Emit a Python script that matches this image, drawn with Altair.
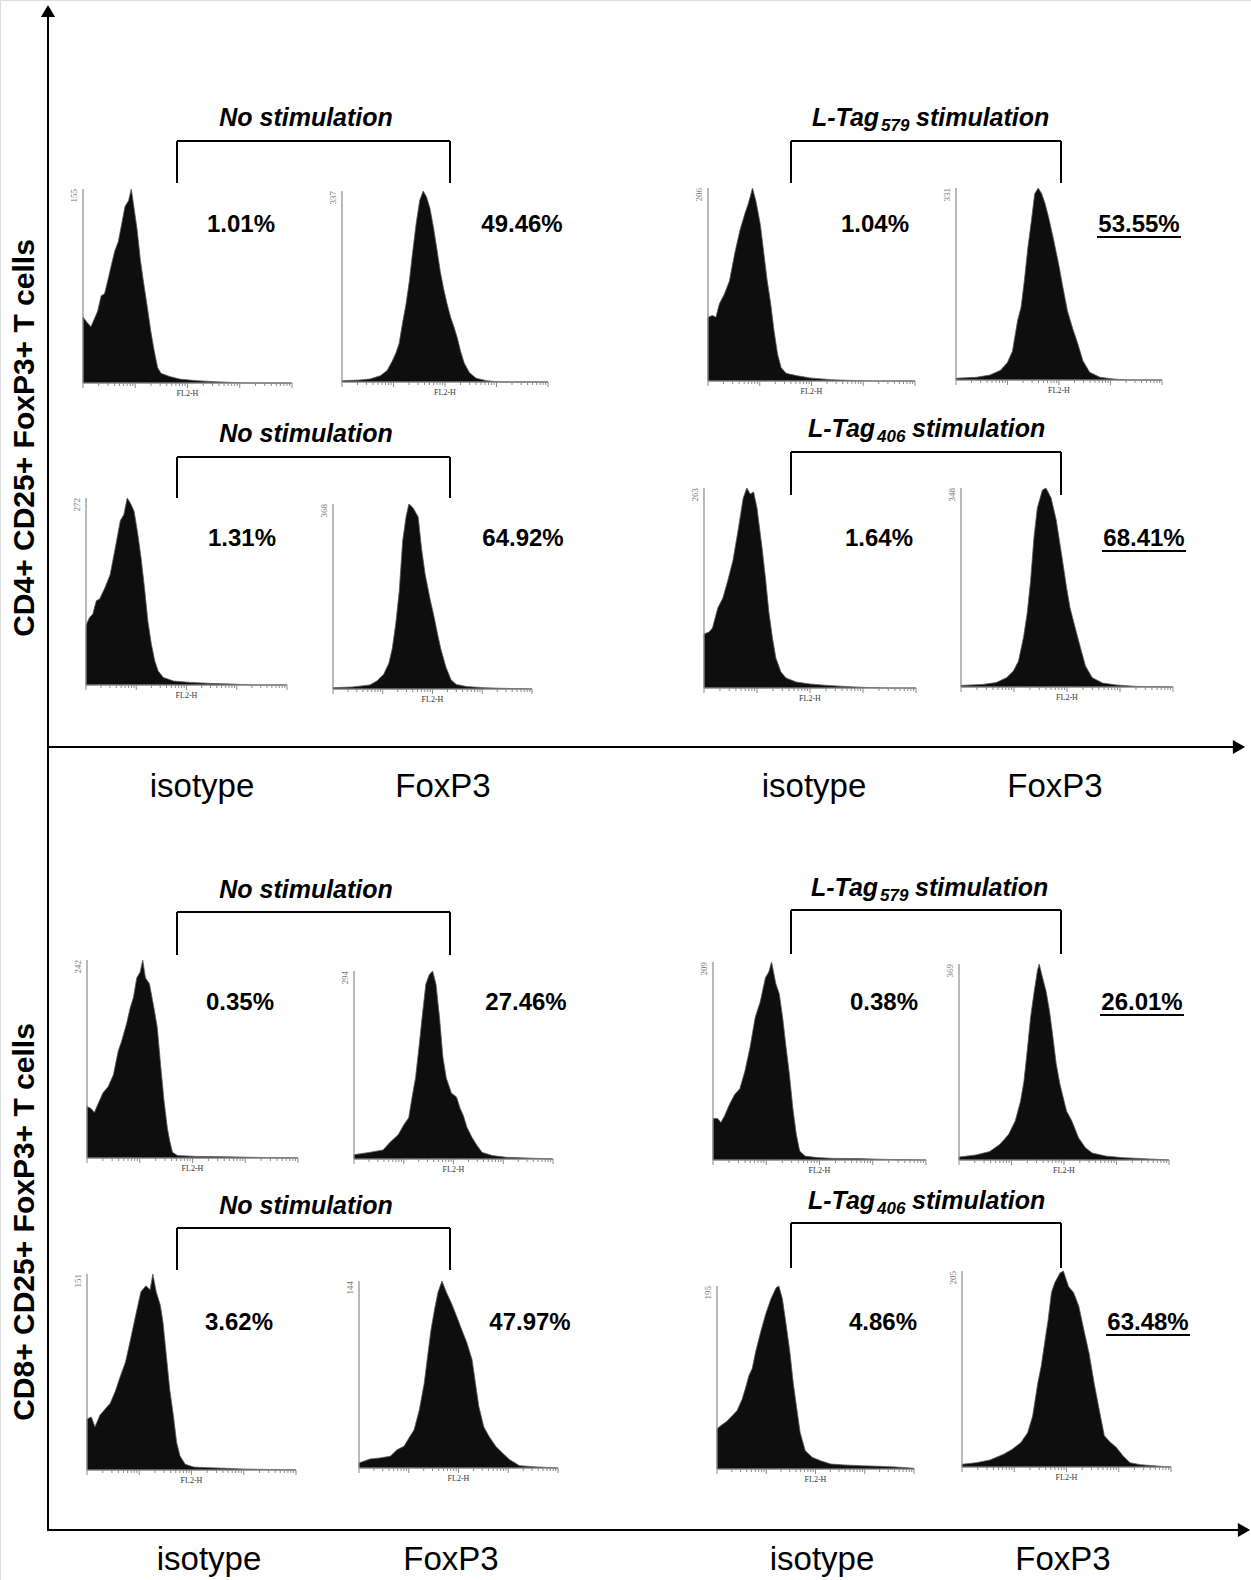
import altair as alt
import pandas as pd
import numpy as np

W, H = 1251, 1580

# ---------------- data: histogram profiles ----------------
# channel on a 4-decade log FL2-H axis (0-1000), count as % of modal count
P1_CH = [0,21,38,54,70,87,103,119,136,152,169,185,201,218,231,242,259,275,291,308,324,340,357,373,414,463,545,627,709,790,1000]
P1_PCT = [34,31,29,33,37,45,46,53,61,68,73,82,91,94,100,92,79,63,51,39,27,17,8,5,3.4,2,1.2,0.7,0.3,0,0]
P2_CH = [0,86,136,186,219,244,261,277,294,311,327,344,360,377,394,410,427,444,460,477,493,510,527,543,560,576,593,618,651,701,767,1000]
P2_PCT = [0.7,1,1.6,3.3,6,11,15,20,31,41,53,69,83,95,100,97,91,81,70,58,49,41,34,29,23,16,10,5,2,0.7,0,0]
P3_CH = [0,22,38,55,79,104,129,154,179,195,215,232,253,270,286,303,319,336,353,377,427,493,593,692,791,1000]
P3_PCT = [33,34,33,40,45,52,66,78,87,92,100,93,81,66,52,40,26,14,7,4,2.8,1.6,0.7,0.3,0,0]
P4_CH = [0,98,165,215,249,274,299,316,332,349,366,382,399,416,432,449,474,499,516,541,566,591,616,649,699,766,833,1000]
P4_PCT = [0.9,1.4,2.6,5,9,15,31,38,52,69,83,97,100,97,92,85,73,60,50,36,27,19,10,4,1.4,0.5,0,0]
P5_CH = [0,17,34,51,68,94,120,145,171,188,205,222,239,256,274,291,308,325,342,359,385,436,521,607,726,829,1000]
P5_PCT = [32,36,38,45,46,52,59,73,88,91,100,97,93,82,68,52,34,22,13,7.5,4,2.1,1.4,0.9,0.5,0,0]
P6_CH = [0,99,185,220,255,281,298,315,333,350,367,381,402,428,445,463,489,506,523,541,567,593,619,671,757,844,1000]
P6_PCT = [0.7,1.1,2.2,4.3,8,14,22,35,53,80,93,100,98,93,76,62,48,40,31,22,12,5,2.5,1.3,0.7,0.4,0]
P7_CH = [0,24,40,65,89,113,137,161,185,202,218,234,250,274,290,306,323,339,363,387,435,500,581,661,758,855,1000]
P7_PCT = [27,28,30,40,45,54,64,79,95,100,97,98,90,70,55,38,25,15,8,5,3,2,1.3,0.8,0.3,0,0]
P8_CH = [0,102,166,215,247,271,295,312,328,344,360,384,401,425,449,474,498,514,538,563,587,619,668,733,830,1000]
P8_PCT = [0.8,1.3,2.2,4.7,8,13,25,37,53,75,90,99,100,95,84,67,50,40,30,20,10.6,4.7,2,1,0.3,0]
P9_CH = [0,19,35,51,76,100,125,148,164,188,205,220,236,252,264,277,296,317,333,349,365,381,392,405,429,518,598,711,807,1000]
P9_PCT = [26,25,23,27,33,36,42,54,59,68,76,81,91,94,100,91,88,76,66,47,29,15,8.7,2.9,1.2,0.8,0.7,0.5,0.3,0]
P10_CH = [0,77,146,180,223,249,275,292,309,326,344,361,378,395,412,430,447,464,490,515,533,550,567,593,619,644,696,765,868,1000]
P10_PCT = [2.3,3.5,4.8,8.8,13,18,22,33,43,59,77,93,98,100,93,75,54,43,35,33,27,23,17,11.5,7.1,3.5,1.8,0.9,0.5,0]
P11_CH = [0,21,37,53,77,101,126,150,174,198,222,246,262,275,295,311,327,343,359,375,391,407,432,488,568,681,810,1000]
P11_PCT = [21,21,19,22,28,33,36,45,57,72,80,92,95,100,89,84,72,57,43,26,13,4.5,2,1.2,0.8,0.7,0.3,0]
P12_CH = [0,81,146,195,236,268,293,309,325,341,358,374,382,398,415,431,447,463,480,496,512,537,569,602,634,699,780,878,1000]
P12_PCT = [1.5,2.6,4.3,8,13,20,30,40,56,73,86,97,100,93,86,76,63,49,39,32,25,20,11.4,6.3,3.6,2,1.2,0.7,0]
P13_CH = [0,21,38,62,86,111,135,160,184,209,233,258,282,302,315,331,351,364,380,396,413,429,445,470,511,576,657,739,853,1000]
P13_PCT = [26,27,22,28,31,34,40,48,55,67,79,91,94,92,100,91,84,75,58,41,28,14,7.2,2.9,1.5,1.2,0.9,0.5,0.3,0]
P14_CH = [0,55,106,157,191,226,251,277,303,328,345,362,380,397,417,439,465,491,516,542,568,585,602,627,653,687,721,756,807,875,1000]
P14_PCT = [2.7,4.8,5.4,6.3,9.8,11.6,16,20.5,31,45.5,60,74,85,94,100,94,88,81,74,67,58,45.5,33,22,17,11.6,8,4.5,1.25,0.7,0]
P15_CH = [0,23,49,76,102,127,144,162,179,196,222,248,274,300,314,332,352,370,387,405,422,448,483,526,578,648,734,821,908,1000]
P15_PCT = [22,24,26,29,32,38,44,51,55,64,75,85,93,99,100,93,78,64,47,33,20,10,6.4,4.5,2.7,2.2,1.8,1.5,1.1,0.4]
P16_CH = [0,69,134,199,240,281,314,338,363,379,395,412,428,444,469,485,510,534,559,583,608,632,657,681,706,739,771,804,853,935,1000]
P16_PCT = [1.4,2.2,3.6,6.5,9,12.4,17.5,26,43,51.5,63,75,89,94,99,100,92,89,82,70,58,43,29,16,13,9.9,5.6,2.2,1.2,0.5,0]

HIST_CH = [P1_CH, P2_CH, P3_CH, P4_CH, P5_CH, P6_CH, P7_CH, P8_CH,
           P9_CH, P10_CH, P11_CH, P12_CH, P13_CH, P14_CH, P15_CH, P16_CH]
HIST_PCT = [P1_PCT, P2_PCT, P3_PCT, P4_PCT, P5_PCT, P6_PCT, P7_PCT, P8_PCT,
            P9_PCT, P10_PCT, P11_PCT, P12_PCT, P13_PCT, P14_PCT, P15_PCT, P16_PCT]

YMAX_LABELS = ["155", "337", "206", "331", "272", "368", "263", "348",
               "242", "294", "209", "369", "151", "144", "195", "205"]
PERCENT_LABELS = ["1.01%", "49.46%", "1.04%", "53.55%", "1.31%", "64.92%", "1.64%", "68.41%",
                  "0.35%", "27.46%", "0.38%", "26.01%", "3.62%", "47.97%", "4.86%", "63.48%"]
UNDERLINED = [False, False, False, True, False, False, False, True,
              False, False, False, True, False, False, False, True]
CONDITION_SUBSCRIPT = ["579", "406", "579", "406"]
COLUMN_LABELS = ["isotype", "FoxP3", "isotype", "FoxP3"]
ROW_LABELS = ["CD4+ CD25+ FoxP3+ T cells", "CD8+ CD25+ FoxP3+ T cells"]

# ---------------- layout (pixel positions on the canvas) ----------------
PANEL_BOX = [  # x0, x1, top, base
    (83, 292, 189, 383), (342, 548, 191, 382), (708, 915, 188, 381), (956, 1162, 188, 380),
    (86, 287, 498, 685), (333, 532, 504, 689), (704, 916, 488, 688), (961, 1173, 488, 687),
    (87, 298, 960, 1158), (354, 553, 971, 1159), (713, 926, 962, 1160), (959, 1169, 964, 1160),
    (87, 296, 1274, 1470), (359, 558, 1281, 1468), (717, 914, 1286, 1469), (962, 1171, 1271, 1467),
]
PCT_POS = [(241, 225), (522, 225), (875, 225), (1139, 225),
           (242, 539), (523, 539), (879, 539), (1144, 539),
           (240, 1003), (526, 1003), (884, 1003), (1142, 1003),
           (239, 1323), (530, 1323), (883, 1323), (1148, 1323)]
UNDERLINE_Y = {3: 237, 7: 551, 11: 1015, 15: 1335}
LEFT_TITLE_Y = [118, 434, 890, 1206]
LEFT_TITLE_X = 306
RIGHT_TITLE_Y = [118, 429, 888, 1201]
RIGHT_TITLE_X = [812, 808, 811, 808]
BRACKETS = [  # x_left, x_right, y_top, y_bottom
    (177, 450, 141, 183), (791, 1061, 141, 183),
    (177, 450, 457, 498), (791, 1061, 452, 495),
    (177, 450, 912, 955), (791, 1061, 910, 954),
    (177, 450, 1228, 1270), (791, 1061, 1223, 1268),
]
COL_LABEL_X_TOP = [202, 443, 814, 1055]
COL_LABEL_X_BOT = [209, 451, 822, 1063]
COL_LABEL_Y = [787, 1560]
ROW_LABEL_POS = [(25, 438), (25, 1222)]

xs = alt.Scale(domain=[0, W], nice=False, zero=False)
ys = alt.Scale(domain=[0, H], nice=False, zero=False, reverse=True)


def X(f="x"):
    return alt.X(f"{f}:Q", scale=xs, axis=None)


def Y(f="y"):
    return alt.Y(f"{f}:Q", scale=ys, axis=None)


# ---------------- build tables ----------------
hist_rows = []
for i, (chs, pcts) in enumerate(zip(HIST_CH, HIST_PCT)):
    x0, x1, top, base = PANEL_BOX[i]
    for c, p in zip(chs, pcts):
        hist_rows.append({"panel": i, "x": x0 + c / 1000 * (x1 - x0),
                          "y": base - p / 100 * (base - top), "yb": base})
hist = pd.DataFrame(hist_rows)

gray_rules, tick_rules = [], []
for i, (x0, x1, top, base) in enumerate(PANEL_BOX):
    gray_rules.append({"x": x0, "x2": x0, "y": top, "y2": base})
    gray_rules.append({"x": x0, "x2": x1, "y": base, "y2": base})
    for d in range(4):
        for k in range(1, 10):
            f = (d + np.log10(k)) / 4
            xx = x0 + f * (x1 - x0)
            tick_rules.append({"x": xx, "x2": xx, "y": base, "y2": base + (5 if k == 1 else 3)})
    tick_rules.append({"x": x1, "x2": x1, "y": base, "y2": base + 5})
gray_df = pd.DataFrame(gray_rules)
tick_df = pd.DataFrame(tick_rules)

black_rules = [
    {"x": 48, "x2": 48, "y": 12, "y2": 1531},
    {"x": 48, "x2": 1236, "y": 747, "y2": 747},
    {"x": 48, "x2": 1241, "y": 1530, "y2": 1530},
]
for (xl, xr, yt, yb) in BRACKETS:
    black_rules += [{"x": xl, "x2": xr, "y": yt, "y2": yt},
                    {"x": xl, "x2": xl, "y": yt, "y2": yb},
                    {"x": xr, "x2": xr, "y": yt, "y2": yb}]
black_df = pd.DataFrame(black_rules)

underline_df = pd.DataFrame([{"x": PCT_POS[i][0] - 42, "x2": PCT_POS[i][0] + 42,
                              "y": UNDERLINE_Y[i], "y2": UNDERLINE_Y[i]}
                             for i in range(16) if UNDERLINED[i]])

arrow_up = pd.DataFrame([{"x": 48, "y": 11}])
arrow_right = pd.DataFrame([{"x": 1239, "y": 747}, {"x": 1244, "y": 1530}])

pct_df = pd.DataFrame([{"t": PERCENT_LABELS[i], "x": PCT_POS[i][0], "y": PCT_POS[i][1]} for i in range(16)])
ymax_df = pd.DataFrame([{"t": YMAX_LABELS[i], "x": PANEL_BOX[i][0] - 9, "y": PANEL_BOX[i][2]} for i in range(16)])
fl2_df = pd.DataFrame([{"t": "FL2-H", "x": (b[0] + b[1]) / 2, "y": b[3] + 11} for b in PANEL_BOX])

left_title_df = pd.DataFrame([{"t": "No stimulation", "x": LEFT_TITLE_X, "y": y} for y in LEFT_TITLE_Y])
right_rows = []
for r in range(4):
    bx, by = RIGHT_TITLE_X[r], RIGHT_TITLE_Y[r]
    right_rows.append({"t": "L-Tag", "x": bx, "y": by, "fs": 25})
    right_rows.append({"t": CONDITION_SUBSCRIPT[r], "x": bx + 69, "y": by + 8, "fs": 17})
    right_rows.append({"t": "stimulation", "x": bx + 104, "y": by, "fs": 25})
right_title_df = pd.DataFrame(right_rows)

col_rows = []
for yy, xlist in zip(COL_LABEL_Y, [COL_LABEL_X_TOP, COL_LABEL_X_BOT]):
    for lab, xx in zip(COLUMN_LABELS, xlist):
        col_rows.append({"t": lab, "x": xx, "y": yy})
col_df = pd.DataFrame(col_rows)
row_df = pd.DataFrame([{"t": ROW_LABELS[i], "x": ROW_LABEL_POS[i][0], "y": ROW_LABEL_POS[i][1]} for i in range(2)])

SANS = "Liberation Sans"
SERIF = "Liberation Serif"

layers = [
    alt.Chart(hist).mark_area(color="#0e0e0e", stroke="#5a5a5a", strokeWidth=0.8, interpolate="linear")
       .encode(x=X(), y=Y(), y2="yb:Q", detail="panel:N"),
    alt.Chart(gray_df).mark_rule(color="#8a8a8a", strokeWidth=1.2).encode(x=X(), x2="x2:Q", y=Y(), y2="y2:Q"),
    alt.Chart(tick_df).mark_rule(color="#8a8a8a", strokeWidth=1).encode(x=X(), x2="x2:Q", y=Y(), y2="y2:Q"),
    alt.Chart(black_df).mark_rule(color="black", strokeWidth=2).encode(x=X(), x2="x2:Q", y=Y(), y2="y2:Q"),
    alt.Chart(underline_df).mark_rule(color="black", strokeWidth=2).encode(x=X(), x2="x2:Q", y=Y(), y2="y2:Q"),
    alt.Chart(arrow_up).mark_point(shape="triangle-up", filled=True, color="black", size=200, opacity=1)
       .encode(x=X(), y=Y()),
    alt.Chart(arrow_right).mark_point(shape="triangle-right", filled=True, color="black", size=200, opacity=1)
       .encode(x=X(), y=Y()),
    alt.Chart(pct_df).mark_text(font=SANS, fontSize=24, fontWeight="bold", align="center", baseline="middle", color="black")
       .encode(x=X(), y=Y(), text="t:N"),
    alt.Chart(ymax_df).mark_text(font=SERIF, fontSize=9, angle=270, align="right", baseline="middle", color="#777777")
       .encode(x=X(), y=Y(), text="t:N"),
    alt.Chart(fl2_df).mark_text(font=SERIF, fontSize=8, align="center", baseline="middle", color="#333333")
       .encode(x=X(), y=Y(), text="t:N"),
    alt.Chart(left_title_df).mark_text(font=SANS, fontSize=25, fontWeight="bold", fontStyle="italic",
                                       align="center", baseline="middle", color="black")
       .encode(x=X(), y=Y(), text="t:N"),
    alt.Chart(right_title_df).mark_text(font=SANS, fontWeight="bold", fontStyle="italic",
                                        align="left", baseline="middle", color="black")
       .encode(x=X(), y=Y(), text="t:N", size=alt.Size("fs:Q", scale=None, legend=None)),
    alt.Chart(col_df).mark_text(font=SANS, fontSize=33, align="center", baseline="middle", color="black")
       .encode(x=X(), y=Y(), text="t:N"),
    alt.Chart(row_df).mark_text(font=SANS, fontSize=30, fontWeight="bold", angle=270,
                                align="center", baseline="middle", color="black")
       .encode(x=X(), y=Y(), text="t:N"),
]

chart = alt.layer(*layers).properties(
    width=W, height=H, padding=0, autosize=alt.AutoSizeParams(type="none")
).configure_view(stroke=None).configure(background="white")

chart.save("out.html", embed_options={"renderer": "svg", "actions": False})
